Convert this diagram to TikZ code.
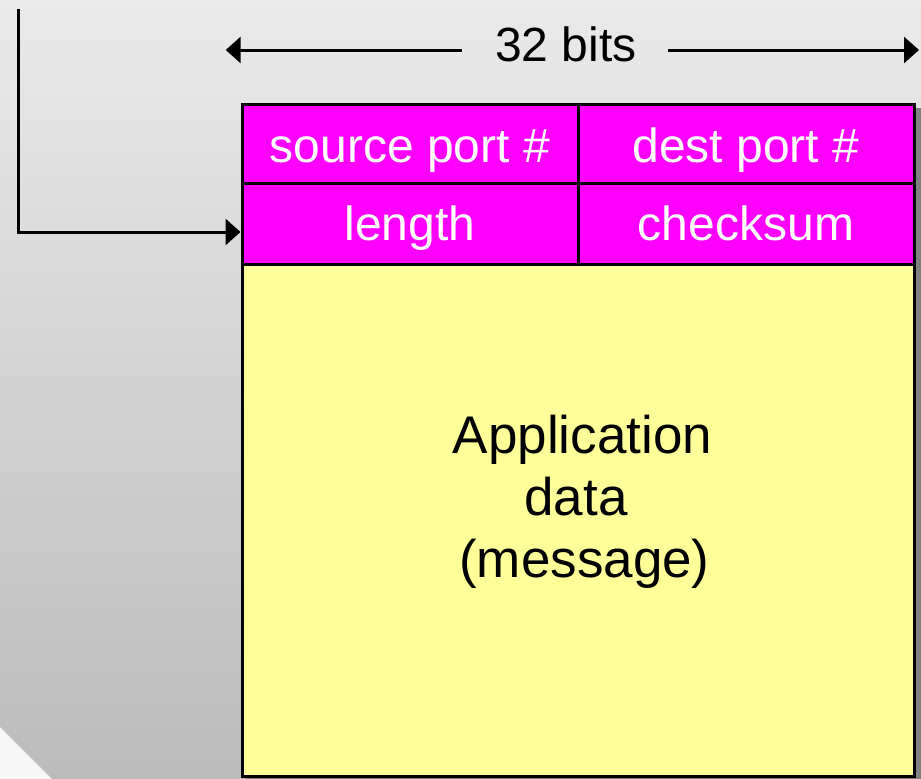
\documentclass[tikz,border=0pt]{standalone}
\usepackage{fontspec}
\setmainfont{Liberation Sans}
\usetikzlibrary{arrows.meta}
\definecolor{bgtop}{HTML}{EAEAEA}
\definecolor{bgbot}{HTML}{BBBBBB}
\definecolor{cornerwhite}{HTML}{F7F7F7}
\definecolor{hdrfill}{HTML}{FF00FF}
\definecolor{bodyfill}{HTML}{FFFF99}
\definecolor{shadowgray}{HTML}{808080}
\begin{document}
\begin{tikzpicture}[x=1pt,y=-1pt,
  cellbox/.style={draw=black,line width=3pt,inner sep=0pt,rectangle},
  hdrcell/.style={cellbox,fill=hdrfill,minimum width=336pt},
  hdrtxt/.style={text=white,inner sep=0pt,anchor=base,font=\fontsize{48}{56}\selectfont},
  bodytxt/.style={text=black,inner sep=0pt,anchor=base,font=\fontsize{53}{62}\selectfont},
  bitstxt/.style={text=black,inner sep=0pt,anchor=base,font=\fontsize{48}{56}\selectfont},
  conn/.style={draw=black,line width=3pt,-{Triangle[length=15pt,width=26pt]}}]
\useasboundingbox (0,0) rectangle (921,779);
\clip (0,0) rectangle (921,779);
% background
\shade[top color=bgtop,bottom color=bgbot] (0,0) rectangle (921,779);
\fill[cornerwhite] (0,727) -- (52,779) -- (0,779) -- cycle;
% shadow
\fill[shadowgray] (246,108) rectangle (930,790);
% cells
\node[hdrcell,minimum height=79pt] (src) at (410,144) {};
\node[hdrcell,minimum height=79pt] (dst) at (746,144) {};
\node[hdrcell,minimum height=80.5pt] (len) at (410,223.75) {};
\node[hdrcell,minimum height=80.5pt] (chk) at (746,223.75) {};
\node[cellbox,fill=bodyfill,minimum width=672pt,minimum height=512.5pt] (data) at (578,520.25) {};
% texts
\node[hdrtxt] (srct) at (410,162) {source port \#};
\node[hdrtxt] (dstt) at (746,162) {dest port \#};
\node[hdrtxt] (lent) at (410,240.5) {length};
\node[hdrtxt] (chkt) at (746,240.5) {checksum};
\node[bodytxt] (app) at (582.5,453) {Application};
\node[bodytxt] (dat) at (576,515) {data};
\node[bodytxt] (mes) at (584.5,577) {(message)};
% 32 bits
\node[bitstxt] (bits) at (566,61) {32 bits};
\coordinate (bitsL) at (462,50);
\coordinate (bitsR) at (668,50);
\coordinate (tipL) at (225.7,50);
\coordinate (tipR) at (919,50);
\draw[conn] (bitsL) -- (tipL);
\draw[conn] (bitsR) -- (tipR);
% left connector
\coordinate (lstart) at (18,9);
\coordinate (lend) at (240.5,232);
\draw[conn] (lstart) |- (lend);
\end{tikzpicture}
\end{document}
